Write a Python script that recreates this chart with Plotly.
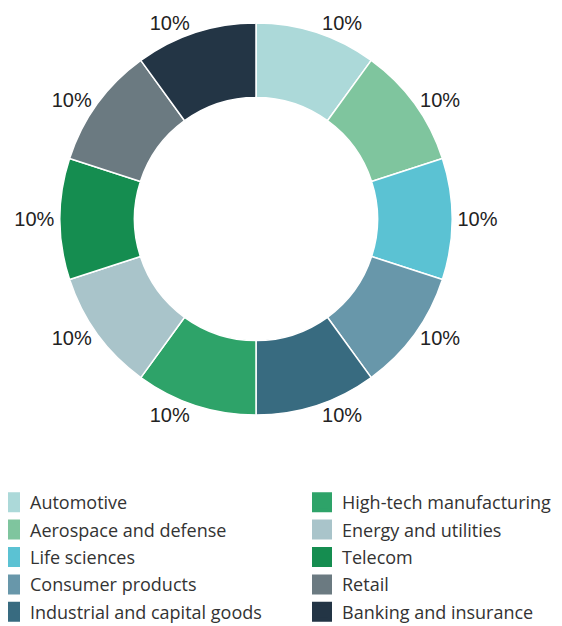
import plotly.graph_objects as go

# Sector shares, clockwise from 12 o'clock
sectors = ["Automotive", "Aerospace and defense", "Life sciences", "Consumer products",
           "Industrial and capital goods", "High-tech manufacturing", "Energy and utilities",
           "Telecom", "Retail", "Banking and insurance"]
shares = [10, 10, 10, 10, 10, 10, 10, 10, 10, 10]
colors = ["#acd9d9", "#7fc59e", "#5bc2d3", "#6897aa", "#386b80",
          "#2ea369", "#a9c4ca", "#158d50", "#6b7a81", "#233545"]

W, H = 562, 626

fig = go.Figure()
fig.add_trace(go.Pie(
    labels=sectors, values=shares, hole=0.62, sort=False, direction="clockwise",
    rotation=0, marker=dict(colors=colors, line=dict(color="white", width=1.5)),
    texttemplate="%{value}%", textposition="outside", showlegend=False,
    textfont=dict(size=20, color="#222", family="Liberation Sans"),
    domain=dict(x=[52 / W, 444 / W], y=[1 - 407 / H, 1 - 15 / H]),
))

# legend entries laid out in two columns
for i, (name, c) in enumerate(zip(sectors, colors)):
    fig.add_trace(go.Scatter(
        x=[None], y=[None], mode="markers", name=name, legendgroup=name,
        marker=dict(symbol="square", size=16, color=c, line=dict(color=c, width=4)),
        legend="legend" if i < 5 else "legend2",
    ))

leg = dict(orientation="v", xanchor="left", yanchor="top", bgcolor="rgba(0,0,0,0)",
           font=dict(size=18, color="#333", family="Open Sans"), tracegroupgap=1,
           itemclick=False)
fig.update_layout(
    width=W, height=H, margin=dict(l=0, r=0, t=0, b=0, autoexpand=False),
    paper_bgcolor="white", plot_bgcolor="white",
    xaxis=dict(visible=False), yaxis=dict(visible=False),
    legend=dict(leg, x=-18 / W, y=1 - 476 / H),
    legend2=dict(leg, x=294 / W, y=1 - 476 / H),
)
fig.write_html("out.html")
